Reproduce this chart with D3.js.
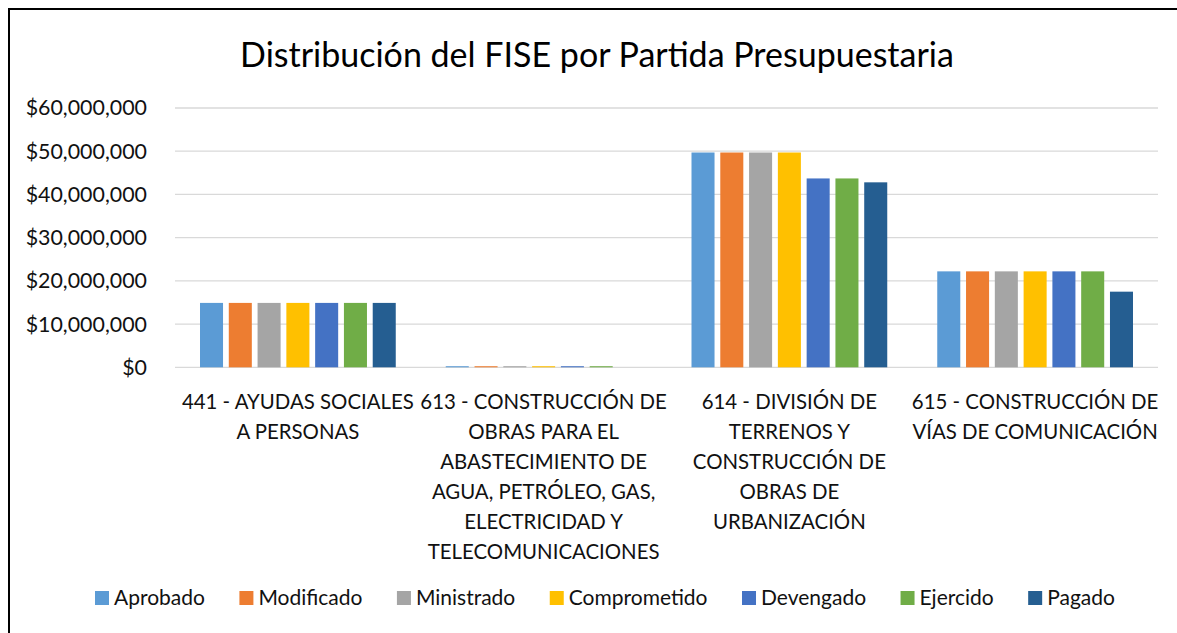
<!DOCTYPE html>
<html>
<head>
<meta charset="utf-8">
<script src="https://cdn.jsdelivr.net/npm/d3@7"></script>
<style>
  html, body { margin: 0; padding: 0; background: #fff; }
  svg { display: block; }
  text { font-family: Lato, "Open Sans", sans-serif; fill: #111; }
</style>
</head>
<body>
<svg id="chart" width="1177" height="633"></svg>
<script>
// ---- data ----
const title = "Distribución del FISE por Partida Presupuestaria";
const categories = [
  "441 - AYUDAS SOCIALES\nA PERSONAS",
  "613 - CONSTRUCCIÓN DE\nOBRAS PARA EL\nABASTECIMIENTO DE\nAGUA, PETRÓLEO, GAS,\nELECTRICIDAD Y\nTELECOMUNICACIONES",
  "614 - DIVISIÓN DE\nTERRENOS Y\nCONSTRUCCIÓN DE\nOBRAS DE\nURBANIZACIÓN",
  "615 - CONSTRUCCIÓN DE\nVÍAS DE COMUNICACIÓN"
];
const seriesNames = ["Aprobado", "Modificado", "Ministrado", "Comprometido", "Devengado", "Ejercido", "Pagado"];
const aprobado     = [14900000, 250000, 49700000, 22200000];
const modificado   = [14900000, 250000, 49700000, 22200000];
const ministrado   = [14900000, 250000, 49700000, 22200000];
const comprometido = [14900000, 250000, 49700000, 22200000];
const devengado    = [14900000, 250000, 43700000, 22200000];
const ejercido     = [14900000, 250000, 43700000, 22200000];
const pagado       = [14900000, 0, 42800000, 17500000];
const yTicks = [0, 10000000, 20000000, 30000000, 40000000, 50000000, 60000000];
const colors = ["#5B9BD5", "#ED7D31", "#A5A5A5", "#FFC000", "#4472C4", "#70AD47", "#255E91"];

const seriesValues = [aprobado, modificado, ministrado, comprometido, devengado, ejercido, pagado];

// ---- layout ----
const svg = d3.select("#chart");
const plot = { left: 175, right: 1158, top: 108, bottom: 367.3 };

// outer border (extends past the right/bottom edge)
svg.append("rect")
  .attr("x", 9).attr("y", 9).attr("width", 1200).attr("height", 700)
  .attr("fill", "#fff").attr("stroke", "#000").attr("stroke-width", 2);

svg.append("text")
  .attr("x", 597).attr("y", 67)
  .attr("text-anchor", "middle")
  .style("font-size", "34px").style("fill", "#000")
  .text(title);

const y = d3.scaleLinear().domain([0, 60000000]).range([plot.bottom, plot.top]);
const x0 = d3.scaleBand().domain(d3.range(categories.length)).range([plot.left, plot.right]);
const x1 = d3.scaleBand().domain(seriesNames)
  .range([25, x0.bandwidth() - 25]).paddingInner(0.2);

// gridlines
svg.append("g").selectAll("line").data(yTicks).join("line")
  .attr("x1", plot.left).attr("x2", plot.right)
  .attr("y1", d => y(d)).attr("y2", d => y(d))
  .attr("stroke", "#d9d9d9").attr("stroke-width", 1.3);

// y axis labels
const fmt = d3.format("$,.0f");
svg.append("g").selectAll("text").data(yTicks).join("text")
  .attr("x", 147).attr("y", d => y(d))
  .attr("dy", "0.35em")
  .attr("text-anchor", "end")
  .style("font-size", "21.4px")
  .text(d => fmt(d));

// bars
const groups = svg.append("g").selectAll("g").data(categories).join("g")
  .attr("transform", (d, i) => `translate(${x0(i)},0)`);
groups.selectAll("rect")
  .data((d, i) => seriesNames.map((s, j) => ({ s, j, v: seriesValues[j][i] })))
  .join("rect")
  .attr("x", d => x1(d.s))
  .attr("width", x1.bandwidth())
  .attr("y", d => y(d.v))
  .attr("height", d => y(0) - y(d.v))
  .attr("fill", d => colors[d.j]);

// category labels
const cl = svg.append("g").selectAll("text").data(categories).join("text")
  .attr("text-anchor", "middle")
  .style("font-size", "20.4px");
cl.each(function(d, i) {
  const t = d3.select(this);
  d.split("\n").forEach((line, k) => {
    t.append("tspan")
      .attr("x", x0(i) + x0.bandwidth() / 2)
      .attr("y", 401.7 + k * 30)
      .attr("dy", "0.35em")
      .text(line);
  });
});

// legend
const legend = svg.append("g");
const items = legend.selectAll("g").data(seriesNames).join("g");
items.append("rect").attr("width", 14).attr("height", 14).attr("y", -7)
  .attr("fill", (d, i) => colors[i]);
items.append("text").attr("x", 19).attr("dy", "0.35em")
  .style("font-size", "21px").text(d => d);
let widths = [];
items.each(function() { widths.push(this.getBBox().width); });
const legendStart = 95, legendEnd = 1115;
const gap = (legendEnd - legendStart - d3.sum(widths)) / (widths.length - 1);
let cx = legendStart;
items.each(function(d, i) {
  d3.select(this).attr("transform", `translate(${cx},598)`);
  cx += widths[i] + gap;
});
</script>
</body>
</html>
